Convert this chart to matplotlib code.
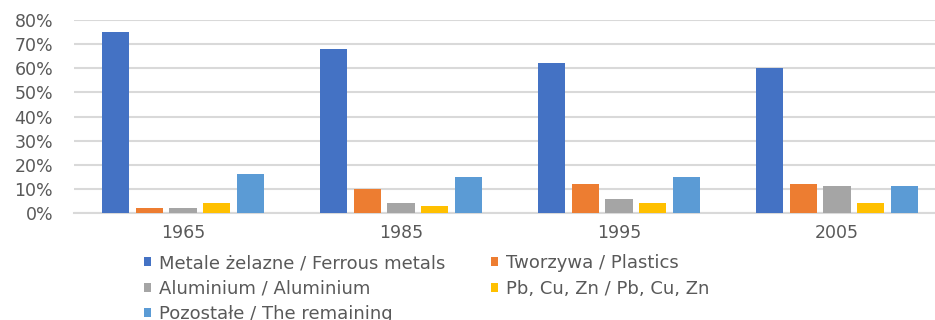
import matplotlib.pyplot as plt
import numpy as np

years = ['1965', '1985', '1995', '2005']
series_names = ['Metale żelazne / Ferrous metals', 'Tworzywa / Plastics',
                'Aluminium / Aluminium', 'Pb, Cu, Zn / Pb, Cu, Zn',
                'Pozostałe / The remaining']
ferrous = [0.75, 0.68, 0.62, 0.60]
plastics = [0.02, 0.10, 0.12, 0.12]
aluminium = [0.02, 0.04, 0.06, 0.11]
pb_cu_zn = [0.04, 0.03, 0.04, 0.04]
remaining = [0.16, 0.15, 0.15, 0.11]
colors = ['#4472C4', '#ED7D31', '#A5A5A5', '#FFC000', '#5B9BD5']

txt = '#595959'
fig = plt.figure(figsize=(9.35, 3.2), dpi=100)
ax = fig.add_axes([74 / 935, 107 / 320, 872 / 935, 193 / 320])

x = np.arange(len(years))
step, width = 0.154, 0.124
bars = []
for i, (vals, c) in enumerate(zip([ferrous, plastics, aluminium, pb_cu_zn, remaining], colors)):
    b = ax.bar(x + (i - 2) * step, vals, width, color=c, label=series_names[i], zorder=3)
    bars.append(b)

ax.set_xlim(-0.5, 3.5)
ax.set_ylim(0, 0.8)
ax.set_yticks(np.arange(0, 0.81, 0.1))
ax.set_yticklabels([f'{int(round(v * 100))}%' for v in np.arange(0, 0.81, 0.1)])
ax.set_xticks(x)
ax.set_xticklabels(years)
ax.tick_params(axis='both', length=0, colors=txt, labelsize=12.5)
ax.tick_params(axis='y', pad=15)
ax.tick_params(axis='x', pad=8)
ax.grid(axis='y', color='#d9d9d9', linewidth=1.5, zorder=0)
for s in ['top', 'right', 'left']:
    ax.spines[s].set_visible(False)
ax.spines['bottom'].set_color('#d9d9d9')
ax.spines['bottom'].set_linewidth(1.5)

# two legend columns placed separately
leg_kw = dict(loc='upper left', frameon=False, fontsize=13, handlelength=0.4,
              handleheight=0.4, handletextpad=0.45, labelspacing=0.42,
              borderaxespad=0, borderpad=0)
left = fig.legend([bars[i] for i in (0, 2, 4)], [series_names[i] for i in (0, 2, 4)],
                  bbox_to_anchor=(144 / 935, 1 - 254 / 320), **leg_kw)
right = fig.legend([bars[i] for i in (1, 3)], [series_names[i] for i in (1, 3)],
                   bbox_to_anchor=(491 / 935, 1 - 254 / 320), **leg_kw)
for leg in (left, right):
    for t in leg.get_texts():
        t.set_color(txt)

fig.savefig('out.png', dpi=100)
